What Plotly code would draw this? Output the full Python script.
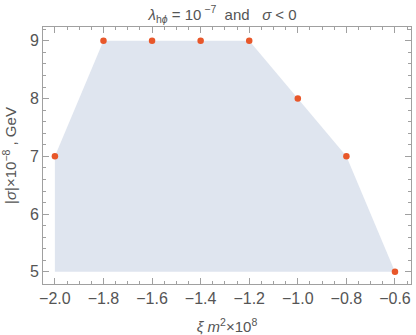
import plotly.graph_objects as go

xi_m2 = [-2.0, -1.8, -1.6, -1.4, -1.2, -1.0, -0.8, -0.6]
sigma_abs = [7, 9, 9, 9, 9, 8, 7, 5]
baseline = [5] * len(xi_m2)

grey = "#555555"
fig = go.Figure()
fig.add_trace(go.Scatter(x=xi_m2, y=baseline, mode="lines", line=dict(width=0),
                         showlegend=False, hoverinfo="skip"))
fig.add_trace(go.Scatter(x=xi_m2, y=sigma_abs, mode="markers", fill="tonexty",
                         fillcolor="#dfe5ef", line=dict(width=0),
                         marker=dict(color="#e8572a", size=6.5), showlegend=False))

axis_common = dict(showgrid=False, zeroline=False, showline=True, linecolor="#a0a0a0",
                   linewidth=1, mirror="allticks", ticks="inside", ticklen=6,
                   tickcolor="#a0a0a0", automargin=False,
                   tickfont=dict(family="Liberation Sans", size=16, color=grey))
fig.update_xaxes(range=[-2.049, -0.534], tickvals=[-2.0, -1.8, -1.6, -1.4, -1.2, -1.0, -0.8, -0.6],
                 ticktext=["−2.0", "−1.8", "−1.6", "−1.4", "−1.2", "−1.0", "−0.8", "−0.6"],
                 minor=dict(dtick=0.05, tick0=-2.0, ticks="inside", ticklen=3, tickcolor="#a0a0a0"),
                 title=dict(text="<i>ξ m</i><sup>2</sup>×10<sup>8</sup>", standoff=20,
                            font=dict(family="Liberation Sans", size=15, color=grey)),
                 **axis_common)
fig.update_yaxes(range=[4.79, 9.24], tickvals=[5, 6, 7, 8, 9],
                 minor=dict(dtick=0.2, tick0=5, ticks="inside", ticklen=3, tickcolor="#a0a0a0"),
                 title=dict(text="|<i>σ</i>|×10<sup>−8</sup> , GeV", standoff=11,
                            font=dict(family="Liberation Sans", size=15, color=grey)),
                 **axis_common)
fig.update_layout(width=416, height=335, margin=dict(l=43, r=5, t=27, b=51),
                  paper_bgcolor="white", plot_bgcolor="white",
                  title=dict(text="<i>λ</i><sub>h<i>ϕ</i></sub> = 10<sup> −7</sup>  and   <i>σ</i> < 0",
                             x=0.535, xanchor="center", y=0.973, yanchor="top",
                             font=dict(family="Liberation Sans", size=15, color=grey)))
fig.write_html("out.html", config={"displayModeBar": False},
               post_script="document.body.style.margin='0';document.body.style.overflow='hidden';")
